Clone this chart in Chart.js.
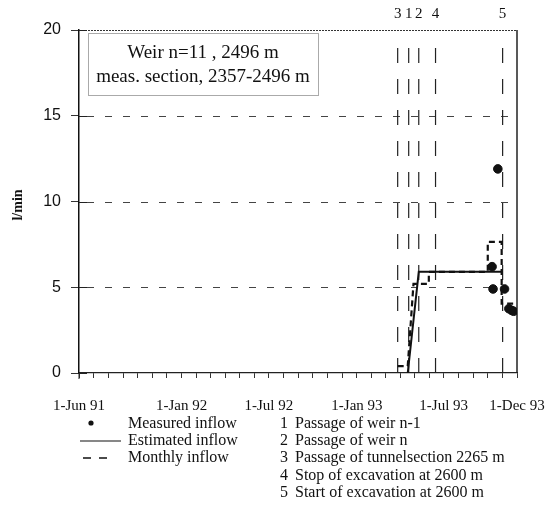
<!DOCTYPE html>
<html><head><meta charset="utf-8">
<script src="https://cdn.jsdelivr.net/npm/chart.js@4.4.1/dist/chart.umd.min.js"></script>
<style>html,body{margin:0;padding:0;background:#fff}#wrap{width:551px;height:518px;position:relative}</style>
</head><body><div id="wrap"><canvas id="c"></canvas></div>
<script>
// ---- data (dates as YYYY-MM-DD, values in l/min) ----
const measuredDates  = ['1993-10-10','1993-10-12','1993-10-22','1993-11-05','1993-11-14','1993-11-20','1993-11-24'];
const measuredValues = [6.2, 4.9, 11.9, 4.9, 3.75, 3.65, 3.6];

const estimatedDates  = ['1993-04-17','1993-05-10','1993-10-30'];
const estimatedValues = [0, 5.9, 5.9];

const monthlyDates  = ['1993-03-27','1993-04-17','1993-04-29','1993-05-31','1993-05-31','1993-10-01','1993-10-01','1993-10-30','1993-10-30','1993-11-26'];
const monthlyValues = [0.4, 0.4, 5.2, 5.2, 5.9, 5.9, 7.65, 7.65, 4.05, 4.05];

const eventDates   = ['1993-03-27','1993-04-19','1993-05-10','1993-06-14','1993-11-01'];
const eventNumbers = ['3','1','2','4','5'];
const eventTop = 19.6;

const xStart = '1991-06-01';
const xEnd   = '1993-12-01';
const xLabelDates = ['1991-06-01','1992-01-01','1992-07-01','1993-01-01','1993-07-01','1993-12-01'];
const xLabelTexts = ['1-Jun 91','1-Jan 92','1-Jul 92','1-Jan 93','1-Jul 93','1-Dec 93'];
const yTicks = [0,5,10,15,20];
const yGridValues = [5,10,15];
const yTitle = 'l/min';
const titleLines = ['Weir n=11 , 2496 m','meas. section, 2357-2496 m'];
const legendSeries = ['Measured inflow','Estimated inflow','Monthly inflow'];
const legendEvents = ['Passage of weir n-1','Passage of weir n','Passage of tunnelsection 2265 m','Stop of excavation at 2600 m','Start of excavation at 2600 m'];

// ---- helpers ----
function dayNum(s){const p=s.split('-').map(Number);const b=xStart.split('-').map(Number);
  return (Date.UTC(p[0],p[1]-1,p[2])-Date.UTC(b[0],b[1]-1,b[2]))/86400000;}
function pts(dates, vals){return dates.map((d,i)=>({x:dayNum(d),y:vals[i]}));}
function monthStarts(){const out=[];const b=xStart.split('-').map(Number);const e=xEnd.split('-').map(Number);
  let y=b[0],m=b[1];while(y<e[0]||(y===e[0]&&m<=e[1])){out.push(`${y}-${String(m).padStart(2,'0')}-01`);m++;if(m>12){m=1;y++;}}return out;}
const labelMap={};xLabelDates.forEach((d,i)=>labelMap[dayNum(d)]=xLabelTexts[i]);

const SERIF='"Liberation Serif","Times New Roman",serif';
const SANS='"Liberation Sans",Arial,sans-serif';

const eventSets = eventDates.map((d)=>({
  label:'event', data:[{x:dayNum(d),y:0},{x:dayNum(d),y:eventTop}],
  borderColor:'#222', borderWidth:1.2, borderDash:[15,16], pointRadius:0, order:5, fill:false
}));

const decor = {
  id:'decor',
  beforeDatasetsDraw(chart){
    const {ctx, chartArea:a, scales:{x,y}} = chart;
    ctx.save();
    ctx.strokeStyle='#444'; ctx.lineWidth=1; ctx.setLineDash([7,11]);
    yGridValues.forEach(v=>{const py=Math.round(y.getPixelForValue(v))+0.5;
      ctx.beginPath();ctx.moveTo(a.left+8,py);ctx.lineTo(a.right,py);ctx.stroke();});
    ctx.setLineDash([2,1]); ctx.strokeStyle='#333';
    const ty=Math.round(y.getPixelForValue(20))+0.5;
    ctx.beginPath();ctx.moveTo(a.left,ty);ctx.lineTo(a.right,ty);ctx.stroke();
    ctx.setLineDash([]); ctx.lineWidth=1.5; ctx.strokeStyle='#222';
    ctx.beginPath();ctx.moveTo(a.right,a.top);ctx.lineTo(a.right,a.bottom);ctx.stroke();
    ctx.lineWidth=1;
    yTicks.forEach(v=>{const py=Math.round(y.getPixelForValue(v))+0.5;
      ctx.beginPath();ctx.moveTo(a.left,py);ctx.lineTo(a.left+8,py);ctx.stroke();});
    ctx.beginPath();ctx.moveTo(a.left,a.bottom);ctx.lineTo(a.left,a.bottom+6);ctx.stroke();
    ctx.restore();
  },
  afterDraw(chart){
    const {ctx, chartArea:a, scales:{x,y}} = chart;
    ctx.save();
    ctx.fillStyle='#111'; ctx.font='15px '+SERIF; ctx.textAlign='center'; ctx.textBaseline='middle';
    eventDates.forEach((d,i)=>ctx.fillText(eventNumbers[i], x.getPixelForValue(dayNum(d)), 14));
    ctx.fillStyle='#fff'; ctx.fillRect(88,33,230,62);
    ctx.strokeStyle='#555'; ctx.lineWidth=1; ctx.setLineDash([1,1]);
    ctx.strokeRect(88.5,33.5,230,62);
    ctx.setLineDash([]);
    ctx.fillStyle='#111'; ctx.font='19px '+SERIF;
    ctx.fillText(titleLines[0], 203, 53);
    ctx.fillText(titleLines[1], 203, 77);
    ctx.save(); ctx.translate(18,205); ctx.rotate(-Math.PI/2);
    ctx.font='bold 14px '+SERIF; ctx.fillText(yTitle,0,0); ctx.restore();
    const rows=[424,441,458,476,493];
    ctx.textAlign='left'; ctx.font='16px '+SERIF; ctx.fillStyle='#111';
    ctx.beginPath(); ctx.arc(91,rows[0]-1,2.6,0,Math.PI*2); ctx.fill();
    ctx.strokeStyle='#111'; ctx.lineWidth=1.2;
    ctx.beginPath(); ctx.moveTo(80,rows[1]); ctx.lineTo(121,rows[1]); ctx.stroke();
    ctx.lineWidth=1.5; ctx.setLineDash([8,8]);
    ctx.beginPath(); ctx.moveTo(83,rows[2]); ctx.lineTo(115,rows[2]); ctx.stroke(); ctx.setLineDash([]);
    legendSeries.forEach((t,i)=>ctx.fillText(t,128,rows[i]));
    legendEvents.forEach((t,i)=>{ctx.fillText(String(i+1),280,rows[i]);ctx.fillText(t,295,rows[i]);});
    ctx.restore();
  }
};

new Chart(document.getElementById('c'), {
  type:'line',
  data:{datasets:[
    {label:'Measured inflow', data:pts(measuredDates,measuredValues), showLine:false,
     pointRadius:4.3, pointBackgroundColor:'#111', pointBorderColor:'#111', order:0},
    {label:'Estimated inflow', data:pts(estimatedDates,estimatedValues), borderColor:'#111',
     borderWidth:2, pointRadius:0, order:1, tension:0},
    {label:'Monthly inflow', data:pts(monthlyDates,monthlyValues), borderColor:'#111',
     borderWidth:2.2, borderDash:[6,4], pointRadius:0, order:2, tension:0},
    ...eventSets
  ]},
  options:{
    responsive:true, maintainAspectRatio:false, animation:false, devicePixelRatio:1,
    layout:{padding:{left:0,right:34,top:30,bottom:100}},
    plugins:{legend:{display:false}, tooltip:{enabled:false}},
    scales:{
      x:{type:'linear', min:dayNum(xStart), max:dayNum(xEnd),
        afterFit(s){s.height=45;s.paddingLeft=0;s.paddingRight=0;},
        afterBuildTicks(s){s.ticks=monthStarts().map(d=>({value:dayNum(d)}));},
        ticks:{autoSkip:false, maxRotation:0, minRotation:0, padding:19, color:'#111',
          font:{family:SERIF,size:15}, callback:(v)=>labelMap[v]||''},
        grid:{drawOnChartArea:false, drawTicks:true, tickLength:5, color:'#333'},
        border:{display:true,color:'#222',width:1.2}
      },
      y:{type:'linear', min:0, max:20,
        afterFit(s){s.width=79;s.paddingTop=0;s.paddingBottom=0;},
        afterBuildTicks(s){s.ticks=yTicks.map(v=>({value:v}));},
        ticks:{padding:10,color:'#111',font:{family:SANS,size:16}},
        grid:{drawOnChartArea:false, drawTicks:true, tickLength:8, color:'#333'},
        border:{display:true,color:'#111',width:1.5}
      }
    }
  },
  plugins:[decor]
});
</script></body></html>
